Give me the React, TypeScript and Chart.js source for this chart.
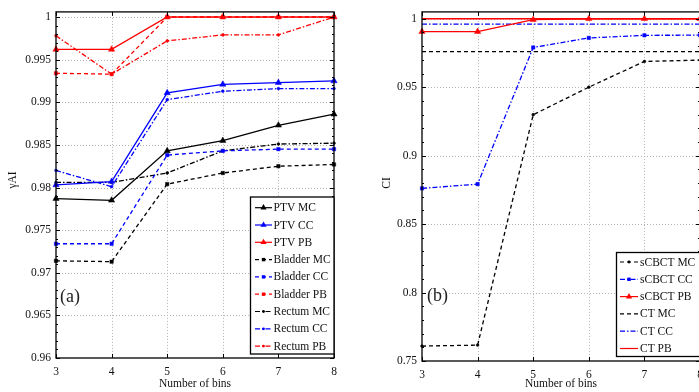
import React, { useEffect, useRef } from 'react';
import { Chart, registerables } from 'chart.js';
Chart.register(...registerables);

// ---------- data ----------
const bins = [3, 4, 5, 6, 7, 8];

// panel (a): gamma AI
const ptvMC = [0.9787, 0.9785, 0.9843, 0.9855, 0.9873, 0.9886];
const ptvCC = [0.9803, 0.9807, 0.9911, 0.9921, 0.9923, 0.9925];
const ptvPB = [0.9962, 0.9962, 1.0, 1.0, 1.0, 1.0];
const bladderMC = [0.9714, 0.9713, 0.9804, 0.9817, 0.9825, 0.9827];
const bladderCC = [0.9734, 0.9734, 0.9838, 0.9843, 0.9845, 0.9845];
const bladderPB = [0.9934, 0.9933, 1.0, 1.0, 1.0, 1.0];
const rectumMC = [0.9806, 0.9806, 0.9817, 0.9843, 0.9851, 0.9852];
const rectumCC = [0.9820, 0.9801, 0.9903, 0.9913, 0.9916, 0.9916];
const rectumPB = [0.9978, 0.9933, 0.9972, 0.9979, 0.9979, 1.0];

// panel (b): CI
const sCBCT_MC = [0.7609, 0.7616, 0.9299, 0.9500, 0.9688, 0.9698];
const sCBCT_CC = [0.8761, 0.8792, 0.9790, 0.9860, 0.9879, 0.9880];
const sCBCT_PB = [0.9906, 0.9906, 0.9993, 1.0, 1.0, 1.0];
const CT_MC = [0.976, 0.976, 0.976, 0.976, 0.976, 0.976];
const CT_CC = [0.996, 0.996, 0.996, 0.996, 0.996, 0.996];
const CT_PB = [1.0, 1.0, 1.0, 1.0, 1.0, 1.0];

const xTicks = [3, 4, 5, 6, 7, 8];
const yTicksA = [0.96, 0.965, 0.97, 0.975, 0.98, 0.985, 0.99, 0.995, 1];
const yTicksB = [0.75, 0.8, 0.85, 0.9, 0.95, 1];

// ---------- styling ----------
const FONT = '"Liberation Serif", "DejaVu Serif", serif';
const BLACK = '#000000';
const BLUE = '#0000ff';
const RED = '#ff0000';

type LStyle = 'solid' | 'dash' | 'dashdot';
type Marker = 'tri' | 'sq' | 'dot' | 'none';
interface SeriesDef { label: string; data: number[]; color: string; style: LStyle; marker: Marker }

const dashOf = (s: LStyle) => (s === 'solid' ? [] : s === 'dash' ? [4, 3] : [5, 2, 1.5, 2]);
const pStyle = (m: Marker) => (m === 'tri' ? 'triangle' : m === 'sq' ? 'rect' : 'circle');
const pRadius = (m: Marker) => (m === 'tri' ? 3.6 : m === 'sq' ? 2.4 : m === 'dot' ? 1.4 : 0);

const seriesA: SeriesDef[] = [
  { label: 'PTV MC', data: ptvMC, color: BLACK, style: 'solid', marker: 'tri' },
  { label: 'PTV CC', data: ptvCC, color: BLUE, style: 'solid', marker: 'tri' },
  { label: 'PTV PB', data: ptvPB, color: RED, style: 'solid', marker: 'tri' },
  { label: 'Bladder MC', data: bladderMC, color: BLACK, style: 'dash', marker: 'sq' },
  { label: 'Bladder CC', data: bladderCC, color: BLUE, style: 'dash', marker: 'sq' },
  { label: 'Bladder PB', data: bladderPB, color: RED, style: 'dash', marker: 'sq' },
  { label: 'Rectum MC', data: rectumMC, color: BLACK, style: 'dashdot', marker: 'dot' },
  { label: 'Rectum CC', data: rectumCC, color: BLUE, style: 'dashdot', marker: 'dot' },
  { label: 'Rectum PB', data: rectumPB, color: RED, style: 'dashdot', marker: 'dot' },
];

const seriesB: SeriesDef[] = [
  { label: 'sCBCT MC', data: sCBCT_MC, color: BLACK, style: 'dash', marker: 'dot' },
  { label: 'sCBCT CC', data: sCBCT_CC, color: BLUE, style: 'dashdot', marker: 'sq' },
  { label: 'sCBCT PB', data: sCBCT_PB, color: RED, style: 'solid', marker: 'tri' },
  { label: 'CT MC', data: CT_MC, color: BLACK, style: 'dash', marker: 'none' },
  { label: 'CT CC', data: CT_CC, color: BLUE, style: 'dashdot', marker: 'none' },
  { label: 'CT PB', data: CT_PB, color: RED, style: 'solid', marker: 'none' },
];

interface PanelCfg {
  series: SeriesDef[];
  yMin: number; yMax: number; yTicks: number[]; minorStep: number;
  yTitle: string; tag: string;
  canvasLeft: number; canvasWidth: number;
  plotLeft: number; plotRight: number; plotTop: number; plotBottom: number;
  legend: { x: number; y: number; w: number; h: number; lx1: number; lx2: number; tx: number; y0: number; step: number };
  tagX: number; tagY: number; yTitleX: number; yTitleY: number;
}

const panelA: PanelCfg = {
  series: seriesA, yMin: 0.96, yMax: 1.0006, yTicks: yTicksA, minorStep: 0.001,
  yTitle: 'γAI', tag: '(a)',
  canvasLeft: 0, canvasWidth: 370,
  plotLeft: 56, plotRight: 334, plotTop: 7, plotBottom: 358,
  legend: { x: 250.5, y: 197, w: 83.5, h: 157, lx1: 255, lx2: 272, tx: 273.5, y0: 207.7, step: 17.3 },
  tagX: 60, tagY: 297, yTitleX: 13, yTitleY: 180,
};

const panelB: PanelCfg = {
  series: seriesB, yMin: 0.75, yMax: 1.005, yTicks: yTicksB, minorStep: 0.01,
  yTitle: 'CI', tag: '(b)',
  canvasLeft: 370, canvasWidth: 340,
  plotLeft: 422, plotRight: 700, plotTop: 9, plotBottom: 361,
  legend: { x: 616.5, y: 252.5, w: 90, h: 104, lx1: 620, lx2: 638, tx: 640, y0: 262, step: 17.3 },
  tagX: 427, tagY: 296, yTitleX: 387, yTitleY: 183,
};

function drawMarker(ctx: CanvasRenderingContext2D, m: Marker, x: number, y: number, color: string) {
  ctx.save();
  ctx.setLineDash([]);
  ctx.fillStyle = color;
  ctx.strokeStyle = color;
  ctx.beginPath();
  if (m === 'tri') {
    const r = 3.6;
    ctx.moveTo(x, y - r);
    ctx.lineTo(x + r * 0.866, y + r * 0.5);
    ctx.lineTo(x - r * 0.866, y + r * 0.5);
    ctx.closePath();
  } else if (m === 'sq') {
    ctx.rect(x - 1.7, y - 1.7, 3.4, 3.4);
  } else if (m === 'dot') {
    ctx.arc(x, y, 1.4, 0, Math.PI * 2);
  } else {
    ctx.restore();
    return;
  }
  ctx.fill();
  ctx.restore();
}

function makePanel(cfg: PanelCfg, canvas: HTMLCanvasElement) {
  const L = cfg.canvasLeft;
  const H = 392;
  const plotLeft = cfg.plotLeft - L;
  const plotRight = cfg.plotRight - L;

  const datasets = cfg.series.map((s) => ({
    label: s.label,
    data: bins.map((b, i) => ({ x: b, y: s.data[i] })),
    borderColor: s.color,
    backgroundColor: s.color,
    borderWidth: 1.3,
    borderDash: dashOf(s.style),
    pointStyle: pStyle(s.marker),
    pointRadius: pRadius(s.marker),
    pointBorderWidth: 0.5,
    pointBackgroundColor: s.color,
    pointBorderColor: s.color,
    tension: 0,
    fill: false,
    clip: false as any,
  }));

  const framePlugin = {
    id: 'matlabFrame',
    beforeDatasetsDraw(chart: any) {
      const { ctx, chartArea: a, scales } = chart;
      ctx.save();
      ctx.strokeStyle = '#b4b4b4';
      ctx.lineWidth = 1;
      ctx.setLineDash([1, 2]);
      for (const v of xTicks) {
        const px = Math.round(scales.x.getPixelForValue(v)) + 0.5;
        if (px <= a.left + 1 || px >= a.right - 1) continue;
        ctx.beginPath(); ctx.moveTo(px, a.top); ctx.lineTo(px, a.bottom); ctx.stroke();
      }
      for (const v of cfg.yTicks) {
        const py = Math.round(scales.y.getPixelForValue(v)) + 0.5;
        if (py <= a.top + 1 || py >= a.bottom - 1) continue;
        ctx.beginPath(); ctx.moveTo(a.left, py); ctx.lineTo(a.right, py); ctx.stroke();
      }
      ctx.restore();
    },
    afterDraw(chart: any) {
      const { ctx, chartArea: a, scales } = chart;
      ctx.save();
      ctx.setLineDash([]);
      ctx.strokeStyle = '#000';
      ctx.lineWidth = 1;
      // inward ticks
      for (const v of xTicks) {
        const px = Math.round(scales.x.getPixelForValue(v)) + 0.5;
        ctx.beginPath();
        ctx.moveTo(px, a.top); ctx.lineTo(px, a.top + 4);
        ctx.moveTo(px, a.bottom); ctx.lineTo(px, a.bottom - 4);
        ctx.stroke();
      }
      for (const v of cfg.yTicks) {
        const py = Math.round(scales.y.getPixelForValue(v)) + 0.5;
        ctx.beginPath();
        ctx.moveTo(a.left, py); ctx.lineTo(a.left + 4, py);
        ctx.moveTo(a.right, py); ctx.lineTo(a.right - 4, py);
        ctx.stroke();
      }
      const nMinor = Math.round((cfg.yMax - cfg.yMin) / cfg.minorStep);
      for (let i = 0; i <= nMinor; i++) {
        const v = cfg.yMin + i * cfg.minorStep;
        if (v > cfg.yMax) break;
        const py = Math.round(scales.y.getPixelForValue(v)) + 0.5;
        ctx.beginPath();
        ctx.moveTo(a.left, py); ctx.lineTo(a.left + 2, py);
        ctx.moveTo(a.right, py); ctx.lineTo(a.right - 2, py);
        ctx.stroke();
      }
      // frame
      ctx.lineWidth = 1.3;
      ctx.strokeRect(a.left, a.top, a.right - a.left, a.bottom - a.top);

      // legend
      const lg = cfg.legend;
      ctx.fillStyle = '#fff';
      ctx.fillRect(lg.x - L, lg.y, lg.w, lg.h);
      ctx.lineWidth = 1.3;
      ctx.strokeStyle = '#000';
      ctx.strokeRect(lg.x - L, lg.y, lg.w, lg.h);
      ctx.font = `11.5px ${FONT}`;
      ctx.textBaseline = 'middle';
      ctx.textAlign = 'left';
      cfg.series.forEach((s, i) => {
        const y = lg.y0 + i * lg.step;
        ctx.save();
        ctx.strokeStyle = s.color;
        ctx.lineWidth = 1.2;
        ctx.setLineDash(dashOf(s.style));
        ctx.beginPath();
        ctx.moveTo(lg.lx1 - L, y); ctx.lineTo(lg.lx2 - L, y);
        ctx.stroke();
        ctx.restore();
        drawMarker(ctx, s.marker, (lg.lx1 + lg.lx2) / 2 - L, y, s.color);
        ctx.fillStyle = '#111';
        ctx.fillText(s.label, lg.tx - L, y + 0.5);
      });

      // tag
      ctx.fillStyle = '#222';
      ctx.font = `18px ${FONT}`;
      ctx.textBaseline = 'middle';
      ctx.textAlign = 'left';
      ctx.fillText(cfg.tag, cfg.tagX - L, cfg.tagY);

      // axis titles
      ctx.fillStyle = '#111';
      ctx.font = `11.5px ${FONT}`;
      ctx.textAlign = 'center';
      ctx.textBaseline = 'middle';
      ctx.fillText('Number of bins', (a.left + a.right) / 2, 384);
      ctx.save();
      ctx.translate(cfg.yTitleX - L, cfg.yTitleY);
      ctx.rotate(-Math.PI / 2);
      ctx.fillText(cfg.yTitle, 0, 0);
      ctx.restore();
      ctx.restore();
    },
  };

  return new Chart(canvas, {
    type: 'line',
    data: { datasets: datasets as any },
    plugins: [framePlugin],
    options: {
      responsive: false,
      maintainAspectRatio: false,
      animation: false,
      devicePixelRatio: 1,
      layout: { padding: { left: 0, top: cfg.plotTop, right: cfg.canvasWidth - plotRight, bottom: 0 } },
      plugins: { legend: { display: false }, tooltip: { enabled: false } },
      scales: {
        x: {
          type: 'linear', min: 3, max: 8,
          afterBuildTicks: (s: any) => { s.ticks = xTicks.map((v) => ({ value: v })); },
          afterFit: (s: any) => { s.height = H - cfg.plotBottom; },
          grid: { display: false, drawTicks: false },
          border: { display: false },
          ticks: {
            color: '#111', padding: 7, maxRotation: 0, autoSkip: false,
            font: { family: FONT, size: 11.5 },
            callback: (v: any) => String(v),
          },
        },
        y: {
          type: 'linear', min: cfg.yMin, max: cfg.yMax,
          afterBuildTicks: (s: any) => { s.ticks = cfg.yTicks.map((v) => ({ value: v })); },
          afterFit: (s: any) => { s.width = plotLeft; },
          grid: { display: false, drawTicks: false },
          border: { display: false },
          ticks: {
            color: '#111', padding: 5, autoSkip: false,
            font: { family: FONT, size: 11.5 },
            callback: (v: any) => String(parseFloat(Number(v).toFixed(4))),
          },
        },
      },
    } as any,
  });
}

export default function App() {
  const refA = useRef<HTMLCanvasElement>(null);
  const refB = useRef<HTMLCanvasElement>(null);
  useEffect(() => {
    document.body.style.margin = '0';
    const a = makePanel(panelA, refA.current!);
    const b = makePanel(panelB, refB.current!);
    return () => { a.destroy(); b.destroy(); };
  }, []);
  return (
    <div style={{ position: 'fixed', left: 0, top: 0, width: 699, height: 392, overflow: 'hidden', background: '#fff' }}>
      <canvas
        ref={refA}
        width={panelA.canvasWidth}
        height={392}
        style={{ position: 'absolute', left: panelA.canvasLeft, top: 0, width: panelA.canvasWidth, height: 392 }}
      />
      <canvas
        ref={refB}
        width={panelB.canvasWidth}
        height={392}
        style={{ position: 'absolute', left: panelB.canvasLeft, top: 0, width: panelB.canvasWidth, height: 392 }}
      />
    </div>
  );
}
